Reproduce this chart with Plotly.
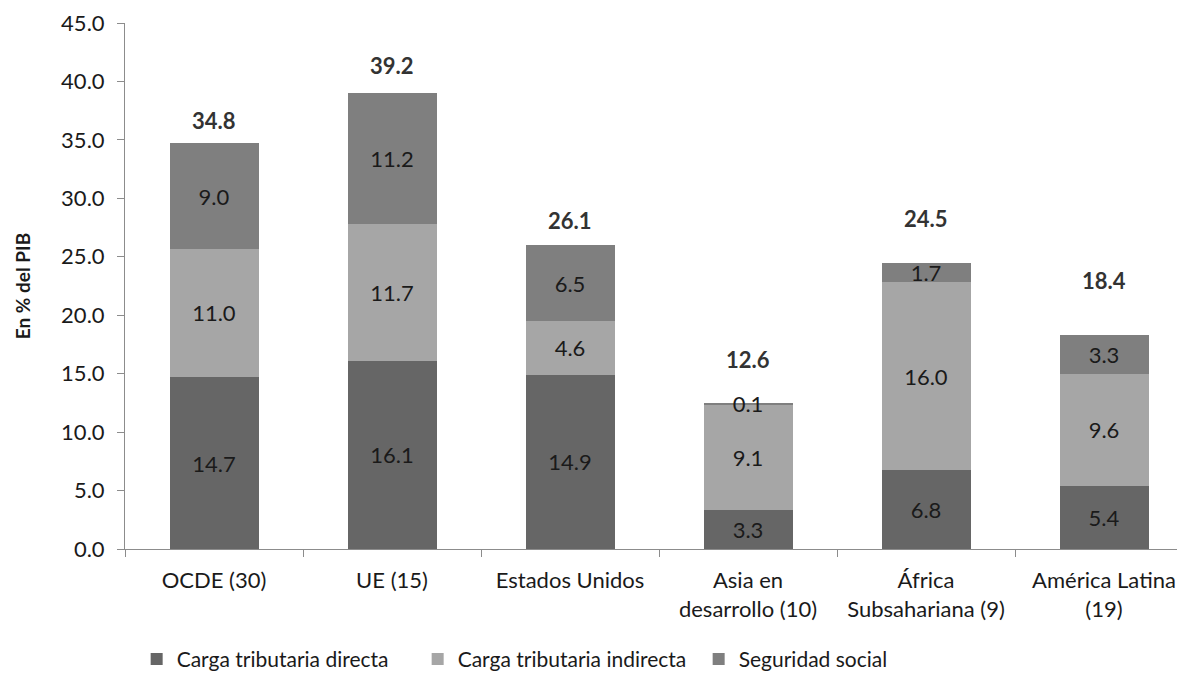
import plotly.graph_objects as go

categories = ["OCDE (30)", "UE (15)", "Estados Unidos", "Asia en<br>desarrollo (10)",
              "África<br>Subsahariana (9)", "América Latina<br>(19)"]
directa = [14.7, 16.1, 14.9, 3.3, 6.8, 5.4]
indirecta = [11.0, 11.7, 4.6, 9.1, 16.0, 9.6]
seguridad = [9.0, 11.2, 6.5, 0.1, 1.7, 3.3]
totales = [34.8, 39.2, 26.1, 12.6, 24.5, 18.4]
y_ticks = [0, 5, 10, 15, 20, 25, 30, 35, 40, 45]

# style: pixel lift of each total label above its bar top
total_lift_px = [22, 25, 23, 42, 44, 53]

FONT = "Lato"
TXT = "#1a1a1a"
AXC = "#8c8c8c"
FS = 22

fig = go.Figure()
series = [
    ("Carga tributaria directa", directa, "#666666"),
    ("Carga tributaria indirecta", indirecta, "#A6A6A6"),
    ("Seguridad social", seguridad, "#7F7F7F"),
]
for name, vals, col in series:
    fig.add_trace(go.Bar(
        x=categories, y=vals, name=name, marker=dict(color=col, line=dict(width=0)),
        width=0.5, text=[f"{v:.1f}" for v in vals], textposition="inside",
        insidetextanchor="middle", constraintext="none",
        textfont=dict(family=FONT, size=FS, color=TXT), cliponaxis=False,
    ))

for cat, tot, lift in zip(categories, totales, total_lift_px):
    fig.add_annotation(x=cat, y=tot, xref="x", yref="y", text=f"<b>{tot:.1f}</b>",
                       showarrow=False, yanchor="middle", yshift=lift,
                       font=dict(family=FONT, size=FS, color="#333333"))

fig.add_annotation(x=-0.097, y=0.5, xref="paper", yref="paper", text="<b>En % del PIB</b>",
                   textangle=-90, showarrow=False, xanchor="center", yanchor="middle",
                   font=dict(family=FONT, size=19, color=TXT))

fig.update_layout(
    barmode="stack", width=1177, height=665,
    margin=dict(l=117, r=0, t=15, b=124, autoexpand=False),
    paper_bgcolor="white", plot_bgcolor="white",
    font=dict(family=FONT, size=FS, color=TXT),
    showlegend=True,
    legend=dict(orientation="h", x=0.011, xanchor="left", y=-0.21, yanchor="middle",
                entrywidth=236, entrywidthmode="pixels", traceorder="normal",
                font=dict(family=FONT, size=21, color=TXT)),
    yaxis=dict(range=[0, 45], tickvals=y_ticks, tickformat=".1f", showgrid=False,
               showline=True, linecolor=AXC, linewidth=1, ticks="outside",
               ticklen=7, tickcolor=AXC, zeroline=False, automargin=False,
               ticklabelstandoff=8, tickfont=dict(family=FONT, size=FS, color=TXT)),
    xaxis=dict(range=[-0.5, 5.455], showgrid=False, showline=True, linecolor=AXC,
               linewidth=1, ticks="outside", ticklen=7, tickcolor=AXC, automargin=False,
               tickson="boundaries", ticklabelstandoff=12,
               tickfont=dict(family=FONT, size=FS, color=TXT)),
)
fig.write_html("out.html")
